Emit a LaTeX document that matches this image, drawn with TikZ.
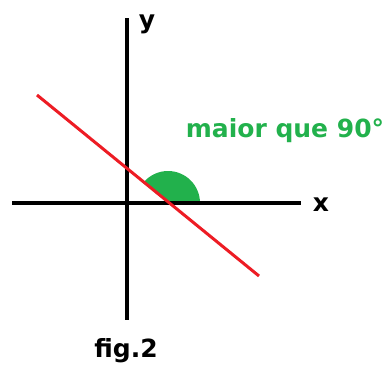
\documentclass[tikz,border=0pt]{standalone}
\usepackage{fontspec}
\setmainfont{DejaVu Sans}
\definecolor{vermelho}{RGB}{237,28,36}
\definecolor{verde}{RGB}{34,177,76}
\tikzset{rotulo/.style={font=\bfseries\fontsize{25}{29}\selectfont,inner sep=0pt}}

\begin{document}
\begin{tikzpicture}[x=1pt,y=-1pt]
    \useasboundingbox (0,0) rectangle (390,370);
    % angle between line and x axis
    \fill[verde] (168,203) -- (200,203) arc[start angle=0,end angle=-141,radius=32] -- cycle;
    % axes
    \draw[line width=4pt] (127,18) -- (127,320);
    \draw[line width=4pt] (12,203) -- (301,203);
    \node[rotulo] (ly) at (147,24) {y};
    \node[rotulo] (lx) at (321,205) {x};
    % line
    \draw[vermelho,line width=3pt] (37,95) -- (259,276);
    \node[rotulo,text=verde] (angulo) at (285,131) {maior que 90°};
    \node[rotulo] (legenda) at (126,351) {fig.2};
\end{tikzpicture}
\end{document}
